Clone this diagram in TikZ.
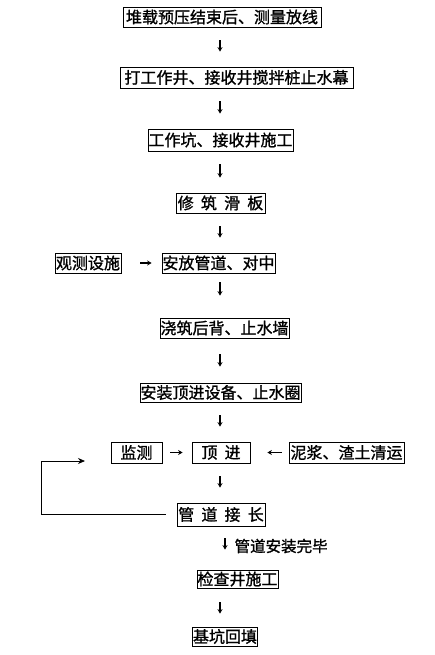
\documentclass[tikz,border=0pt]{standalone}
\usepackage{fontspec}
\newfontfamily\cjk[WordSpace=2,FakeBold=1.2]{Noto Sans CJK SC}
\usepackage{tikz}
\usetikzlibrary{arrows.meta}
\tikzset{
  stepbox/.style={
    rectangle, draw=black, line width=0.8pt, inner xsep=0.5pt, inner ysep=0pt,
    minimum height=20pt, align=center, font=\cjk\fontsize{16}{16}\selectfont
  },
  lbl/.style={inner sep=0pt, font=\cjk\fontsize{15.5}{16}\selectfont},
  arrow/.style={-{Stealth[length=4.5pt,width=5pt]}, line width=1.2pt},
  downarrow/.style={arrow, shorten <=13pt, shorten >=15pt},
  looparrow/.style={-{Stealth[length=7pt,width=6pt]}, line width=0.8pt}
}

\begin{document}
\begin{tikzpicture}[x=1pt,y=-1pt]
  \useasboundingbox (0,0) rectangle (435,655);
  \coordinate (axis) at (220,0);
  % main column
  \node[stepbox,minimum width=198pt] (survey) at (222,17) {堆载预压结束后、测量放线};
  \node[stepbox,minimum width=233pt,minimum height=21pt] (curtain) at (236.5,77.5) {打工作井、接收井搅拌桩止水幕};
  \node[stepbox,minimum width=145pt,minimum height=22pt] (pits) at (220.5,140) {工作坑、接收井施工};
  \node[stepbox,minimum width=89pt] (slide) at (220.5,203) {修 筑 滑 板};
  \node[stepbox,minimum width=66pt] (observe) at (88,263) {观测设施};
  \node[stepbox,minimum width=113pt] (place) at (218.5,263) {安放管道、对中};
  \node[stepbox,minimum width=129pt] (backwall) at (224.5,328) {浇筑后背、止水墙};
  \node[stepbox,minimum width=159pt,minimum height=19pt] (equip) at (220.5,392.5) {安装顶进设备、止水圈};
  \node[stepbox,minimum width=51pt,minimum height=21pt] (monitor) at (136.5,452.5) {监测};
  \node[stepbox,minimum width=58pt,minimum height=21pt] (jack) at (221,452.5) {顶 进};
  \node[stepbox,minimum width=115pt,minimum height=21pt] (muck) at (346.5,452.5) {泥浆、渣土清运};
  \node[stepbox,minimum width=88pt,minimum height=23pt] (extend) at (221,514.5) {管 道 接 长};
  \node[stepbox,minimum width=81pt,minimum height=18pt] (manhole) at (237.5,579) {检查井施工};
  \node[stepbox,minimum width=64pt,minimum height=19pt] (backfill) at (225,636.5) {基坑回填};
  \coordinate (loopend) at (85,461);
  \coordinate (loopx) at (41,461);
  % arrows
  \draw[downarrow] (survey.south -| axis) -- (curtain.north -| axis);
  \draw[downarrow] (curtain.south -| axis) -- (pits.north -| axis);
  \draw[downarrow] (pits.south -| axis) -- (slide.north -| axis);
  \draw[downarrow] (slide.south -| axis) -- (place.north -| axis);
  \draw[arrow,shorten <=19pt,shorten >=10pt] (observe) -- (place);
  \draw[downarrow,shorten <=9pt,shorten >=22pt] (place.south -| axis) -- (backwall.north -| axis);
  \draw[downarrow,shorten <=16pt,shorten >=16pt] (backwall.south -| axis) -- (equip.north -| axis);
  \draw[downarrow] (equip.south -| axis) -- (jack.north -| axis);
  \draw[arrow,shorten <=8pt,shorten >=9pt] (monitor) -- (jack);
  \draw[arrow,shorten <=7pt,shorten >=17pt] (muck) -- (jack);
  \draw[downarrow] (jack.south -| axis) -- (extend.north -| axis);
  \draw[looparrow,shorten <=11pt] (extend.west) -| (loopx) -- (loopend);
  \draw[arrow,shorten <=12pt,shorten >=20pt] (extend.south -| 225,0) -- node[lbl,right=9pt,yshift=2pt] {管道安装完毕} (manhole.north -| 225,0);
  \draw[downarrow,shorten <=14pt,shorten >=13pt] (manhole.south -| axis) -- (backfill.north -| axis);
\end{tikzpicture}
\end{document}
